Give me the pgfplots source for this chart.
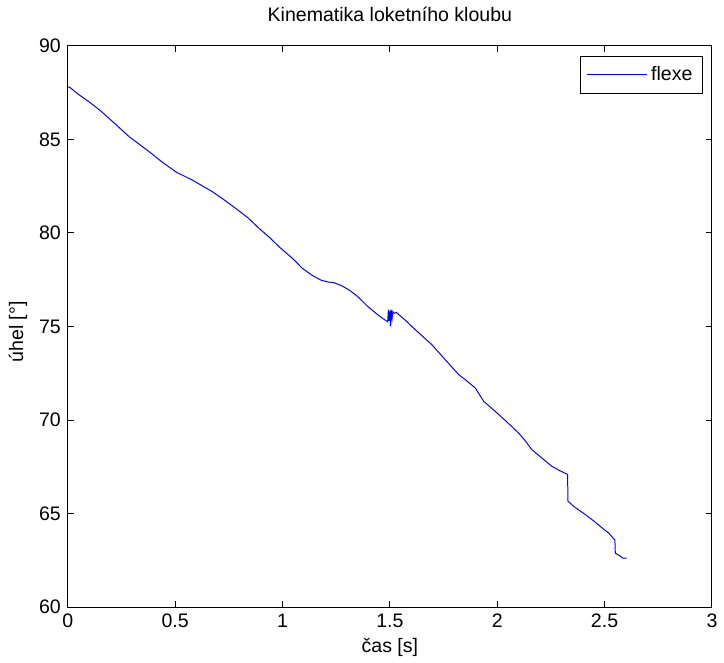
\documentclass[border=0pt]{standalone}
\usepackage{fontspec}
\setmainfont{Liberation Sans}
\usepackage{pgfplots}
\pgfplotsset{compat=1.18}
\begin{document}
\begin{tikzpicture}
\begin{axis}[
  scale only axis, width=323bp, height=281.5bp,
  xmin=0, xmax=3, ymin=60, ymax=90,
  xtick={0,0.5,...,3}, ytick={60,65,...,90},
  tick align=inside, major tick length=3bp,
  xtick pos=both, ytick pos=both,
  axis line style={black, line width=0.5pt},
  tick style={black, line width=0.5pt},
  /pgf/number format/assume math mode=true,
  ticklabel style={font=\fontsize{9.8bp}{11bp}\selectfont},
  label style={font=\fontsize{9.8bp}{11bp}\selectfont},
  title style={font=\fontsize{9.8bp}{11bp}\selectfont, at={(axis description cs:0.5,1.0355)}, anchor=center},
  title={Kinematika loketního kloubu},
  xlabel={čas [s]}, ylabel={úhel [°]},
  xlabel style={at={(axis description cs:0.5,-0.071)}, anchor=center},
  ylabel style={at={(axis description cs:-0.0774,0.49)}, anchor=center},
  legend style={at={(axis description cs:0.986,0.982)}, anchor=north east, draw=black, line width=0.5pt,
    font=\fontsize{9.8bp}{11bp}\selectfont, inner xsep=3bp, inner ysep=3bp},
  legend cell align=left,
  legend image post style={xscale=1.75},
  clip=true,
]
\addplot[blue, line width=0.5pt] coordinates {
(0.000,87.80) (0.009,87.78) (0.050,87.40) (0.102,86.98) (0.150,86.55) (0.195,86.09) (0.240,85.62)
(0.288,85.12) (0.335,84.72) (0.381,84.32) (0.440,83.78) (0.505,83.25) (0.582,82.81)
(0.675,82.19) (0.730,81.75) (0.783,81.30) (0.840,80.80) (0.892,80.23) (0.940,79.75)
(0.985,79.25) (1.046,78.64) (1.093,78.10) (1.140,77.72) (1.178,77.48) (1.210,77.38) (1.240,77.34)
(1.275,77.18) (1.310,76.95) (1.350,76.60) (1.395,76.09) (1.430,75.75) (1.465,75.44)
(1.490,75.25) (1.493,75.90) (1.496,75.30) (1.500,75.85) (1.503,75.00) (1.506,75.90)
(1.510,75.40) (1.514,75.80) (1.520,75.70) (1.530,75.75) (1.549,75.56) (1.575,75.30)
(1.603,74.99) (1.650,74.50) (1.696,74.02) (1.758,73.22) (1.821,72.42) (1.852,72.15)
(1.898,71.71) (1.937,71.00) (1.991,70.46) (2.040,69.95) (2.099,69.31) (2.130,68.90)
(2.161,68.42) (2.210,67.95) (2.254,67.53) (2.290,67.30) (2.328,67.09) (2.329,65.67)
(2.360,65.35) (2.409,64.96) (2.450,64.60) (2.487,64.25) (2.520,63.95) (2.541,63.67)
(2.548,63.60) (2.550,62.88) (2.570,62.75) (2.585,62.62) (2.603,62.62)
};
\addlegendentry{flexe}
\coordinate (sw) at (rel axis cs:0,0);
\coordinate (ne) at (rel axis cs:1,1);
\end{axis}
\path[use as bounding box] ([xshift=-34bp,yshift=-27bp]sw) rectangle ([xshift=5bp,yshift=22.5bp]ne);
\end{tikzpicture}
\end{document}
